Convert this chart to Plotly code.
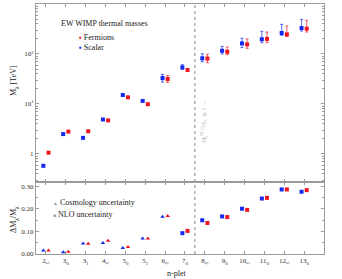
import plotly.graph_objects as go
import numpy as np

# ---------------- data ----------------
nplet_labels = ["2<sub>½</sub>", "3<sub>0</sub>", "3<sub>1</sub>", "4<sub>½</sub>", "5<sub>0</sub>",
                "5<sub>1</sub>", "6<sub>½</sub>", "7<sub>0</sub>", "8<sub>½</sub>", "9<sub>0</sub>",
                "10<sub>½</sub>", "11<sub>0</sub>", "12<sub>½</sub>", "13<sub>0</sub>"]
nplet_pos = list(range(1, 15))

fermion_mass = [1.06, 2.8, 2.85, 4.7, 13.6, 9.9, 31.6, 48, 81, 111, 156, 200, 247, 321]
fermion_hi = [1.06, 2.8, 2.85, 4.7, 13.6, 9.9, 37, 51, 99, 138, 200, 275, 363, 471]
fermion_lo = [1.06, 2.8, 2.85, 4.7, 13.6, 9.9, 27, 45, 67, 97, 130, 168, 222, 275]

scalar_mass = [0.58, 2.5, 2.1, 4.9, 15.1, 11.5, 33, 54, 82, 116, 163, 197, 263, 331]
scalar_hi = [0.58, 2.5, 2.1, 4.9, 15.1, 11.5, 39, 61, 101, 142, 206, 284, 392, 493]
scalar_lo = [0.58, 2.5, 2.1, 4.9, 15.1, 11.5, 27.5, 49.4, 70, 100, 134, 168, 236, 288]

fermion_rel = [0.015, 0.010, 0.045, 0.059, 0.031, 0.069, 0.168, 0.102, 0.137, 0.163, 0.195, 0.248, 0.285, 0.282]
scalar_rel = [0.015, 0.0075, 0.046, 0.049, 0.027, 0.068, 0.165, 0.092, 0.149, 0.166, 0.200, 0.245, 0.285, 0.275]
uncertainty_kind = ["cosmo"] * 7 + ["nlo"] * 7

RED = "#f0141e"
BLUE = "#1428f0"
GRAY = "#9a9a9a"
FONT = "Liberation Serif"
OFF = 0.13

sym = ["triangle-up" if k == "cosmo" else "square" for k in uncertainty_kind]

fig = go.Figure()

def errs(v, hi, lo):
    v, hi, lo = np.array(v), np.array(hi), np.array(lo)
    return (hi - v).tolist(), (v - lo).tolist()

sp, sm = errs(scalar_mass, scalar_hi, scalar_lo)
fp, fm = errs(fermion_mass, fermion_hi, fermion_lo)

fig.add_trace(go.Scatter(
    x=[p - OFF for p in nplet_pos], y=scalar_mass, mode="markers",
    marker=dict(symbol="square", size=4, color=BLUE),
    error_y=dict(type="data", symmetric=False, array=sp, arrayminus=sm,
                 color=BLUE, thickness=0.7, width=1.5),
    xaxis="x", yaxis="y", showlegend=False))
fig.add_trace(go.Scatter(
    x=[p + OFF for p in nplet_pos], y=fermion_mass, mode="markers",
    marker=dict(symbol="square", size=4, color=RED),
    error_y=dict(type="data", symmetric=False, array=fp, arrayminus=fm,
                 color=RED, thickness=0.7, width=1.5),
    xaxis="x", yaxis="y", showlegend=False))

fig.add_trace(go.Scatter(
    x=[p - OFF for p in nplet_pos], y=scalar_rel, mode="markers",
    marker=dict(symbol=sym, size=4, color=BLUE),
    xaxis="x2", yaxis="y2", showlegend=False))
fig.add_trace(go.Scatter(
    x=[p + OFF for p in nplet_pos], y=fermion_rel, mode="markers",
    marker=dict(symbol=sym, size=4, color=RED),
    xaxis="x2", yaxis="y2", showlegend=False))

split = 0.288
minor_vals = [m * 10 ** e for e in range(-1, 3) for m in range(2, 10)]

axis_common = dict(showline=True, linecolor=GRAY, linewidth=1, mirror="ticks",
                   ticks="inside", tickcolor=GRAY, ticklen=3, showgrid=False,
                   zeroline=False, automargin=False,
                   tickfont=dict(family=FONT, size=7, color="#333"))

fig.update_layout(
    width=342, height=279,
    margin=dict(l=36, r=18, t=4, b=25, autoexpand=False),
    paper_bgcolor="white", plot_bgcolor="white",
    font=dict(family=FONT, size=8, color="#222"),
    showlegend=False,
    xaxis=dict(domain=[0, 1], anchor="y", range=[0.5, 15], tickvals=nplet_pos,
               showticklabels=False, **axis_common),
    yaxis=dict(domain=[split, 1], anchor="x", type="log", range=[np.log10(0.275), 3],
               tickvals=[1, 10, 100, 1000],
               ticktext=["1", "10<sup>1</sup>", "10<sup>2</sup>", "10<sup>3</sup>"],
               minor=dict(tickvals=minor_vals, ticks="inside", ticklen=2, tickcolor=GRAY),
               **axis_common),
    xaxis2=dict(domain=[0, 1], anchor="y2", range=[0.5, 15], tickvals=nplet_pos,
                ticktext=nplet_labels, **axis_common),
    yaxis2=dict(domain=[0, split], anchor="x2", range=[0, 0.318],
                tickvals=[0, 0.1, 0.2, 0.3], ticktext=["0.00", "0.10", "0.20", "0.30"],
                minor=dict(dtick=0.05, ticks="inside", ticklen=2, tickcolor=GRAY),
                **axis_common),
)

# dashed separator
fig.add_shape(type="line", xref="x", yref="paper", x0=8.5, x1=8.5, y0=0, y1=1,
              line=dict(color="#888", width=1, dash="dot"))

def px2paper_x(px):
    return (px - 36) / 288.0

def py2paper_y(py):
    return (254 - py) / 250.0

ann = []
ann.append(dict(text="M<sub>χ</sub> [TeV]", x=px2paper_x(14), y=py2paper_y(81), textangle=-90,
                font=dict(size=8)))
ann.append(dict(text="ΔM<sub>χ</sub>/M<sub>χ</sub>", x=px2paper_x(14), y=py2paper_y(220),
                textangle=-90, font=dict(size=8)))
ann.append(dict(text="n-plet", x=px2paper_x(176), y=py2paper_y(273), font=dict(size=8)))
ann.append(dict(text="EW WIMP thermal masses", x=px2paper_x(104), y=py2paper_y(24),
                font=dict(size=8)))
ann.append(dict(text=f"<span style='color:{RED}'>▪</span> Fermions", x=px2paper_x(77),
                y=py2paper_y(37), xanchor="left", font=dict(size=8)))
ann.append(dict(text=f"<span style='color:{BLUE}'>▪</span> Scalar", x=px2paper_x(77),
                y=py2paper_y(47), xanchor="left", font=dict(size=8)))
ann.append(dict(text=f"<span style='color:{GRAY};font-size:5px'>▲</span> Cosmology uncertainty",
                x=px2paper_x(51), y=py2paper_y(202), xanchor="left", font=dict(size=8)))
ann.append(dict(text=f"<span style='color:{GRAY};font-size:5px'>■</span> NLO uncertainty",
                x=px2paper_x(51), y=py2paper_y(214), xanchor="left", font=dict(size=8)))
ann.append(dict(text="M<sub>χ</sub><sup>NLO</sup>/Λ<sub>L</sub> ≲ 1 →",
                x=px2paper_x(203), y=py2paper_y(122), textangle=-90,
                font=dict(size=6, color="#b0b0b0")))

for a in ann:
    a.setdefault("xref", "paper")
    a.setdefault("yref", "paper")
    a.setdefault("xanchor", "center")
    a.setdefault("yanchor", "middle")
    a.setdefault("showarrow", False)
    fig.add_annotation(**a)

fig.write_html("out.html", config={"displayModeBar": False},
               post_script="document.body.style.margin='0';document.body.style.overflow='hidden';")
